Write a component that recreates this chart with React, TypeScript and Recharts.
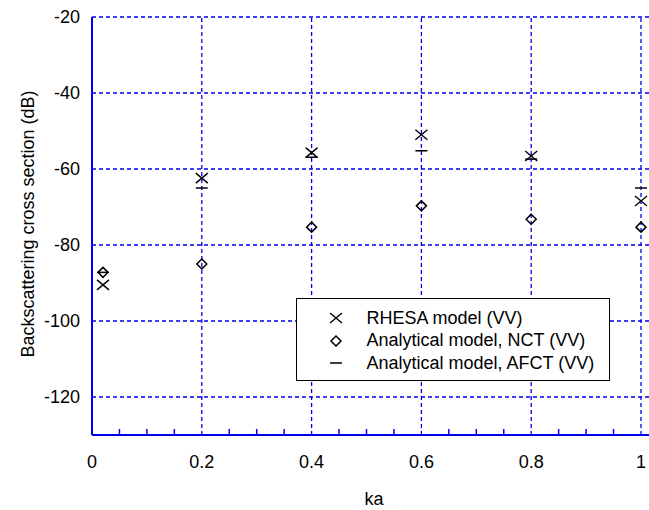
import React from 'react';
import {
  ScatterChart,
  Scatter,
  XAxis,
  YAxis,
  CartesianGrid,
  ReferenceLine,
} from 'recharts';

const ka = [0.02, 0.2, 0.4, 0.6, 0.8, 1.0];
const rhesa = [-90.5, -62.4, -55.7, -51.0, -56.6, -68.4];
const nct = [-87.2, -85.0, -75.3, -69.7, -73.2, -75.3];
const afct = [-87.2, -65.0, -56.9, -55.2, -57.4, -65.0];

const xTicks = [0, 0.05, 0.1, 0.15, 0.2, 0.25, 0.3, 0.35, 0.4, 0.45, 0.5, 0.55, 0.6, 0.65, 0.7, 0.75, 0.8, 0.85, 0.9, 0.95, 1];
const xGrid = [0.2, 0.4, 0.6, 0.8, 1];
const yTicks = [-120, -100, -80, -60, -40, -20];

const BLUE = '#0000ee';
const FONT = "Arial, 'Liberation Sans', sans-serif";

const toPoints = (ys: number[]) => ka.map((x, i) => ({ x, y: ys[i] }));

const isMajor = (v: number) => Math.abs(v * 5 - Math.round(v * 5)) < 1e-6;

const CrossShape = ({ cx, cy }: any) => (
  <g stroke="#000" strokeWidth={1.4}>
    <line x1={cx - 6} y1={cy - 5} x2={cx + 6} y2={cy + 5} />
    <line x1={cx - 6} y1={cy + 5} x2={cx + 6} y2={cy - 5} />
  </g>
);

const DiamondShape = ({ cx, cy }: any) => (
  <polygon
    points={`${cx},${cy - 5} ${cx + 5},${cy} ${cx},${cy + 5} ${cx - 5},${cy}`}
    fill="none"
    stroke="#000"
    strokeWidth={1.5}
  />
);

const DashShape = ({ cx, cy }: any) => (
  <line x1={cx - 6} y1={cy} x2={cx + 6} y2={cy} stroke="#000" strokeWidth={1.5} />
);

const BottomTick = ({ x, y, payload }: any) => {
  const v = payload.value;
  return (
    <g>
      {!isMajor(v) && <line x1={x} y1={y} x2={x} y2={y - 6} stroke={BLUE} strokeWidth={1.5} />}
      {isMajor(v) && (
        <text x={x} y={y + 32.5} textAnchor="middle" fontSize={18} fontFamily={FONT} fill="#000">
          {Math.round(v * 10) / 10}
        </text>
      )}
    </g>
  );
};

const TopTick = ({ x, y, payload }: any) =>
  isMajor(payload.value) ? null : (
    <line x1={x} y1={y} x2={x} y2={y + 6} stroke={BLUE} strokeWidth={1.5} />
  );

const LegendIcon = ({ kind }: { kind: string }) => (
  <svg width={14} height={12} style={{ display: 'block' }}>
    {kind === 'x' && <CrossShape cx={7} cy={6} />}
    {kind === 'd' && <DiamondShape cx={7} cy={6} />}
    {kind === '-' && <DashShape cx={7} cy={6} />}
  </svg>
);

const legendItems = [
  { kind: 'x', label: 'RHESA model (VV)' },
  { kind: 'd', label: 'Analytical model, NCT (VV)' },
  { kind: '-', label: 'Analytical model, AFCT (VV)' },
];

export default function App() {
  return (
    <div style={{ position: 'absolute', left: 0, top: 0, width: 649, height: 510, overflow: 'hidden', background: '#fff' }}>
      <ScatterChart width={650} height={510} margin={{ top: 17, right: 0, left: 0, bottom: 0 }}>
        <CartesianGrid vertical={false} stroke={BLUE} strokeDasharray="4 3" strokeWidth={1.3} />
        {xGrid.map((v) => (
          <ReferenceLine key={v} x={v} stroke={BLUE} strokeDasharray="4 3" strokeWidth={1.3} />
        ))}
        <XAxis
          type="number"
          dataKey="x"
          domain={[0, 1.0164]}
          allowDataOverflow
          ticks={xTicks}
          interval={0}
          height={75}
          tickSize={0}
          tickMargin={0}
          tickLine={false}
          axisLine={{ stroke: BLUE, strokeWidth: 2 }}
          tick={<BottomTick />}
          label={{
            content: () => (
              <text x={374} y={504.5} textAnchor="middle" fontSize={18} fontFamily={FONT} fill="#000">
                ka
              </text>
            ),
          }}
        />
        <XAxis
          xAxisId="top"
          orientation="top"
          type="number"
          dataKey="x"
          domain={[0, 1.0164]}
          allowDataOverflow
          ticks={xTicks}
          interval={0}
          height={0}
          tickSize={0}
          tickMargin={0}
          tickLine={false}
          axisLine={{ stroke: BLUE, strokeWidth: 2 }}
          tick={<TopTick />}
        />
        <YAxis
          type="number"
          dataKey="y"
          domain={[-130, -20]}
          ticks={yTicks}
          interval={0}
          width={92}
          tickLine={false}
          tickMargin={6}
          axisLine={{ stroke: BLUE, strokeWidth: 2 }}
          tick={{ fill: '#000', fontSize: 18, fontFamily: FONT }}
          label={{
            content: () => (
              <text
                x={28}
                y={224}
                transform="rotate(-90 28 224)"
                textAnchor="middle"
                dominantBaseline="central"
                fontSize={18}
                fontFamily={FONT}
                fill="#000"
              >
                Backscattering cross section (dB)
              </text>
            ),
          }}
        />
        <Scatter name="RHESA model (VV)" data={toPoints(rhesa)} shape={<CrossShape />} isAnimationActive={false} />
        <Scatter name="Analytical model, NCT (VV)" data={toPoints(nct)} shape={<DiamondShape />} isAnimationActive={false} />
        <Scatter name="Analytical model, AFCT (VV)" data={toPoints(afct)} shape={<DashShape />} isAnimationActive={false} />
      </ScatterChart>
      <div
        style={{
          position: 'absolute',
          left: 296,
          top: 298,
          width: 314,
          height: 83,
          border: '1.5px solid #000',
          background: '#fff',
          fontFamily: FONT,
          fontSize: 18,
          paddingTop: 8,
          boxSizing: 'border-box',
        }}
      >
        {legendItems.map((it) => (
          <div key={it.kind} style={{ display: 'flex', alignItems: 'center', height: 22.5, whiteSpace: 'nowrap' }}>
            <div style={{ width: 14, marginLeft: 31.5 }}>
              <LegendIcon kind={it.kind} />
            </div>
            <span style={{ marginLeft: 24 }}>{it.label}</span>
          </div>
        ))}
      </div>
    </div>
  );
}
